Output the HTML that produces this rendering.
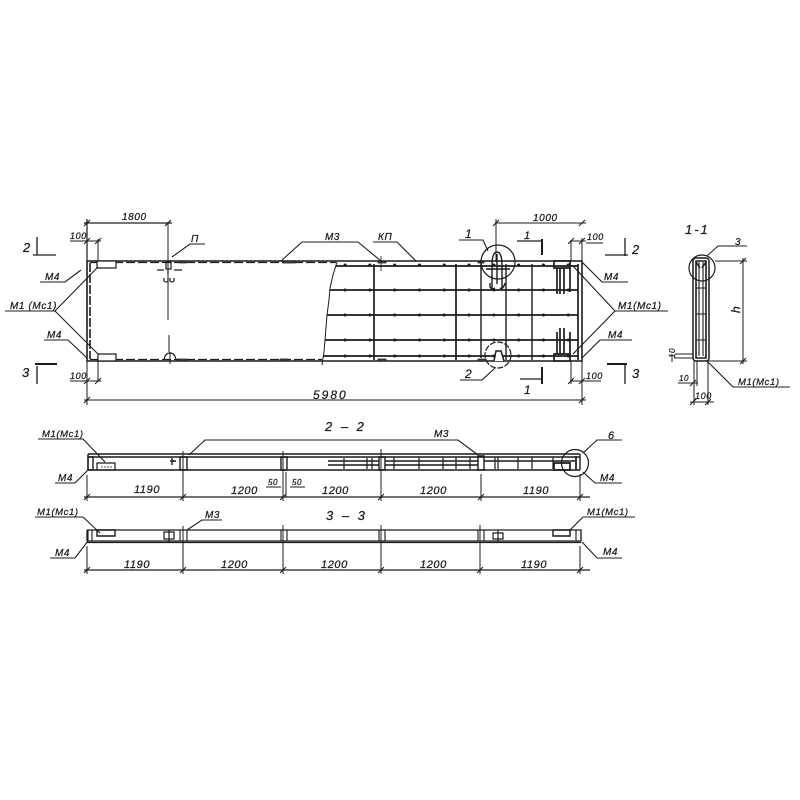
<!DOCTYPE html>
<html><head><meta charset="utf-8"><style>
html,body{margin:0;padding:0;background:#fff}
svg{display:block}
text{font-family:"Liberation Sans",sans-serif;font-style:italic;fill:#1c1c1c;stroke:#1c1c1c;stroke-width:.25px;font-size:10px;letter-spacing:.6px}
.b{font-size:13px;letter-spacing:1px}
</style></head><body>
<svg width="800" height="800" viewBox="0 0 800 800" xmlns="http://www.w3.org/2000/svg">
<defs><filter id="s" x="0" y="0" width="100%" height="100%"><feGaussianBlur stdDeviation="0.35"/></filter></defs>
<rect width="800" height="800" fill="#fff"/>
<g filter="url(#s)">
<g fill="none" stroke="#1c1c1c" stroke-width="1.2">
<!-- main plan outline -->
<path d="M87 261H582V361H87Z" stroke-width="1.6"/>
<path d="M90 262.5H336M90 359.5H322" stroke-dasharray="9 3" stroke-width="1.2"/>
<path d="M90 263V359" stroke-dasharray="9 2" stroke-width="1.6"/>
<path d="M337 262L333 275 330 288 329 300 327 315 325 340 324 352 322 365" stroke-width="1"/>
<path d="M97 261H116V268H97ZM98 354H116V361H98Z" fill="#fff"/>
<path d="M554 261H570V268H554ZM554 354H570V361H554Z" stroke-width="1.7" fill="#fff"/>
<path d="M168 223V320M169 335V352M170 352V364" stroke-width="1"/>
<path d="M166 262V269H171V262ZM157 270H164M174 270H182M168 269V274" />
<path d="M164 278V281Q166 283 168 281V278M170 278V281Q172 283 174 281V278"/>
<path d="M164 360Q165 353 170 353Q175 353 176 360"/>
<!-- rebar horizontals -->
<g stroke-width="1.7">
<path d="M336 266H578M330 290H578M327 315H578M325 340H578M323 356H578"/>
<path d="M374 264V360M456 264V360" />
<path d="M506 264V360M532 264V360M481 262V358" stroke-width="1.4"/>
<path d="M578 264V360"/>
<path d="M557 268V294M560 268V294M564 268V294M570 268V292M557 332V354M560 328V354M564 328V354M570 332V354"/>
</g>
<path d="M345 265H575M345 290H575M345 315H575M345 340H575M345 356H575" stroke-width="3" stroke-linecap="round" stroke-dasharray="0.1 24.7"/>
<path d="M492 288V266Q492 252 497 252Q502 252 502 266V288M497 254V284M490 283V287Q492 290 495 288M500 288Q503 290 505 283M486 269H510" stroke-width="1.4"/>
<path d="M494 361L496 351H501L504 361" stroke-width="1.5" fill="#fff"/>
<!-- small plates -->
<path d="M180 261H186V263H180ZM283 261H295V263H283ZM378 261H386V263H378ZM478 261H484V263H478ZM178 359H187V361H178ZM280 359H288V361H280ZM378 359H386V361H378ZM478 359H486V361H478Z" fill="#444" stroke-width=".8"/>
<path d="M381 256V271" stroke-width=".8"/>
<circle cx="498" cy="262" r="17"/><circle cx="498" cy="355" r="13" stroke-dasharray="6 1.5"/>
<!-- dimensions top -->
<path d="M84 223H172M87 219V261M84 226L90 220M165 226L171 220"/>
<path d="M84 241H101M87 239V261M98 239V261M84 244L90 238M95 244L101 238" stroke-width="1"/>
<path d="M98 361V381M87 361V405M84 400H586M84 403L90 397M579 403L585 397M582 361V405M84 381H101M84 384L90 378M95 384L101 378" stroke-width="1"/>
<path d="M495 223H586M496 219V262M493 226L499 220M579 226L585 220" stroke-width="1"/>
<path d="M570 241H586M571 241V261M582 238V261M568 244L574 238M579 244L585 238M586 243H603" stroke-width="1"/>
<path d="M570 381H586M571 361V384M582 361V384M568 384L574 378M579 384L585 378M586 381H601" stroke-width="1"/>
<path d="M70 241H85M70 381H85" stroke-width="1"/>
<!-- section marks -->
<path d="M37 237V255M33 255H56" stroke-width="1.3"/>
<path d="M37 366V384" stroke-width="1.3"/><path d="M35 364H57" stroke-width="2"/>
<path d="M625 238V256M605 255H628" stroke-width="1.3"/>
<path d="M625 364V384" stroke-width="1.3"/><path d="M607 364H627" stroke-width="2"/>
<path d="M517 241H541M520 379H541" stroke-width="1.3"/>
<path d="M542 239V255M542 367V384" stroke-width="2"/>
<!-- leaders top -->
<g stroke-width="1.1">
<path d="M40 282H65L81 270"/><path d="M5 311H55L98 267"/><path d="M55 311L98 354"/>
<path d="M44 340H68L87 358"/>
<path d="M205 244H190L172 257"/>
<path d="M358 242H302L281 261M358 242L381 261M373 242H397L416 261"/>
<path d="M459 240H483L488 251M460 380H482L495 368"/>
<path d="M628 282H602L582 262M668 311H615L573 266M615 311L573 354M632 340H600L582 358"/>
</g>
<!-- section 1-1 -->
<g>
<rect x="693" y="258" width="16" height="103" rx="3" stroke-width="1.5"/>
<path d="M696 261H706V358H696Z" stroke-width="1.6"/>
<path d="M699 262V356M703 262V356M696 288H706M696 314H706M696 340H706" stroke-width="1.1"/>
<path d="M696 262L700 268M706 262L702 268" stroke-width="1.5"/>
<circle cx="702" cy="268" r="13"/>
<path d="M707 256L718 246H747M715 261H747M707 361H747M743 258V364M740 264L746 258M740 364L746 358" stroke-width="1"/>
<path d="M733 387H790M733 387L707 361" stroke-width="1.1"/>
<path d="M674 358H693M675 354H693M672 354V362M694 361V405M697 361V386M708 361V405M678 383H698M690 386L696 380M690 402H714M690 405L696 399M705 405L711 399" stroke-width="1"/>
</g>
<!-- section 2-2 -->
<g>
<path d="M88 454H580M88 457H580M88 470H580M88 454V470M580 454V470" stroke-width="1.4"/>
<path d="M88 457H93V470H88ZM180 457H187V470H180ZM281 457H287V470H281ZM379 457H385V470H379ZM478 456H484V470H478Z" stroke-width="1.4"/>
<path d="M97 463H115V470H97Z"/>
<path d="M101 467H112" stroke-dasharray="2 1" stroke-width=".8"/>
<path d="M170 461H176M172 458V465" stroke-width="1.4"/>
<path d="M328 461H379M385 461H478M328 465H379M385 465H478M484 461H575" stroke-width="1.4"/>
<path d="M344 458V469M367 458V469M372 458V469M394 457V469M419 457V469M443 457V469M456 457V469M470 457V469M495 457V469M498 457V469M518 457V469M532 457V469M553 457V469" stroke-width="1.2"/>
<path d="M554 463H570V470H554ZM576 456V470" stroke-width="1.7"/>
<circle cx="575" cy="463" r="13.5"/>
<path d="M84 497H590"/>
<path d="M87 475V501M183 451V501M283 451V501M381 449V501M481 474V501M580 474V501M84 500L90 494M180 500L186 494M280 500L286 494M378 500L384 494M478 500L484 494M577 500L583 494M286 472V497" stroke-width="1"/>
<path d="M266 487H281M290 487H305" stroke-width="1"/>
<path d="M189 455L205 440H458L478 455" stroke-width="1.1"/>
<path d="M38 439H83L105 462M55 483H75L88 470M622 440H597L583 453M622 483H595L583 472" stroke-width="1.1"/>
</g>
<!-- section 3-3 -->
<g>
<path d="M87 530H581V541M87 530V541M87 541H581M87 542.5H581" stroke-width="1.3"/>
<path d="M88 530H92V541H88ZM180 530H187V541H180ZM281 530H287V541H281ZM379 530H385V541H379ZM478 530H484V541H478ZM576 530H581V541H576Z" stroke-width="1.1"/>
<path d="M97 530H115V536H97ZM553 530H570V536H553Z" stroke-width="1.4"/>
<path d="M164 532H174V539H164ZM169 530V543M493 533H503V539H493ZM498 530V543" stroke-width="1.2"/>
<path d="M84 570H590"/>
<path d="M87 546V574M183 526V574M283 525V574M381 525V574M480 525V574M580 546V574M84 573L90 567M180 573L186 567M280 573L286 567M378 573L384 567M477 573L483 567M577 573L583 567" stroke-width="1"/>
<path d="M35 517H83L100 533M50 558H75L88 541M222 520H202L187 530M635 517H583L570 530M622 558H597L582 542" stroke-width="1.1"/>
</g>
</g>
<text x="122" y="220">1800</text>
<text x="70" y="239" style="font-size:9px">100</text>
<text x="70" y="379" style="font-size:9px">100</text>
<text class="b" x="23" y="252">2</text>
<text class="b" x="22" y="377">3</text>
<text x="45" y="280">M4</text>
<text x="10" y="309">M1 (Mc1)</text>
<text x="47" y="338">M4</text>
<text x="191" y="242">П</text>
<text x="325" y="240">M3</text>
<text x="378" y="240">КП</text>
<text class="b" x="465" y="238" style="font-size:12px">1</text>
<text class="b" x="465" y="378" style="font-size:12px">2</text>
<text x="533" y="221">1000</text>
<text x="524" y="239" class="b" style="font-size:11px">1</text>
<text x="524" y="394" class="b" style="font-size:12px">1</text>
<text x="587" y="240" style="font-size:9px">100</text>
<text x="586" y="379" style="font-size:9px">100</text>
<text class="b" x="632" y="254">2</text>
<text class="b" x="632" y="378">3</text>
<text x="604" y="280">M4</text>
<text x="618" y="309">M1(Mc1)</text>
<text x="608" y="338">M4</text>
<text x="313" y="399" style="font-size:12px;letter-spacing:2px">5980</text>
<text x="685" y="234" class="b" style="letter-spacing:2px">1-1</text>
<text x="735" y="245">3</text>
<text x="733" y="312" transform="rotate(-90 737 309)" style="font-size:12px">h</text>
<text x="738" y="385" style="font-size:9.5px">M1(Mc1)</text>
<text x="671" y="362" transform="rotate(-90 671 358)" style="font-size:8px">10</text>
<text x="679" y="381" style="font-size:8px">10</text>
<text x="695" y="399" style="font-size:9px">100</text>
<text x="325" y="431" class="b" style="letter-spacing:2.5px">2 – 2</text>
<text x="42" y="437" style="font-size:9.5px">M1(Mc1)</text>
<text x="58" y="481">M4</text>
<text x="434" y="437">M3</text>
<text x="608" y="439" style="font-size:11px">6</text>
<text x="600" y="481">M4</text>
<text x="134" y="493" style="font-size:11px">1190</text>
<text x="231" y="494" style="font-size:11px">1200</text>
<text x="322" y="494" style="font-size:11px">1200</text>
<text x="420" y="494" style="font-size:11px">1200</text>
<text x="523" y="494" style="font-size:11px">1190</text>
<text x="268" y="485" style="font-size:8px">50</text>
<text x="292" y="485" style="font-size:8px">50</text>
<text x="326" y="520" class="b" style="letter-spacing:2.5px">3 – 3</text>
<text x="37" y="515" style="font-size:9.5px">M1(Mc1)</text>
<text x="55" y="556">M4</text>
<text x="205" y="518">M3</text>
<text x="587" y="515" style="font-size:9.5px">M1(Mc1)</text>
<text x="603" y="555">M4</text>
<text x="124" y="568" style="font-size:11px">1190</text>
<text x="221" y="568" style="font-size:11px">1200</text>
<text x="321" y="568" style="font-size:11px">1200</text>
<text x="420" y="568" style="font-size:11px">1200</text>
<text x="521" y="568" style="font-size:11px">1190</text>
</g>
</svg>
</body></html>
